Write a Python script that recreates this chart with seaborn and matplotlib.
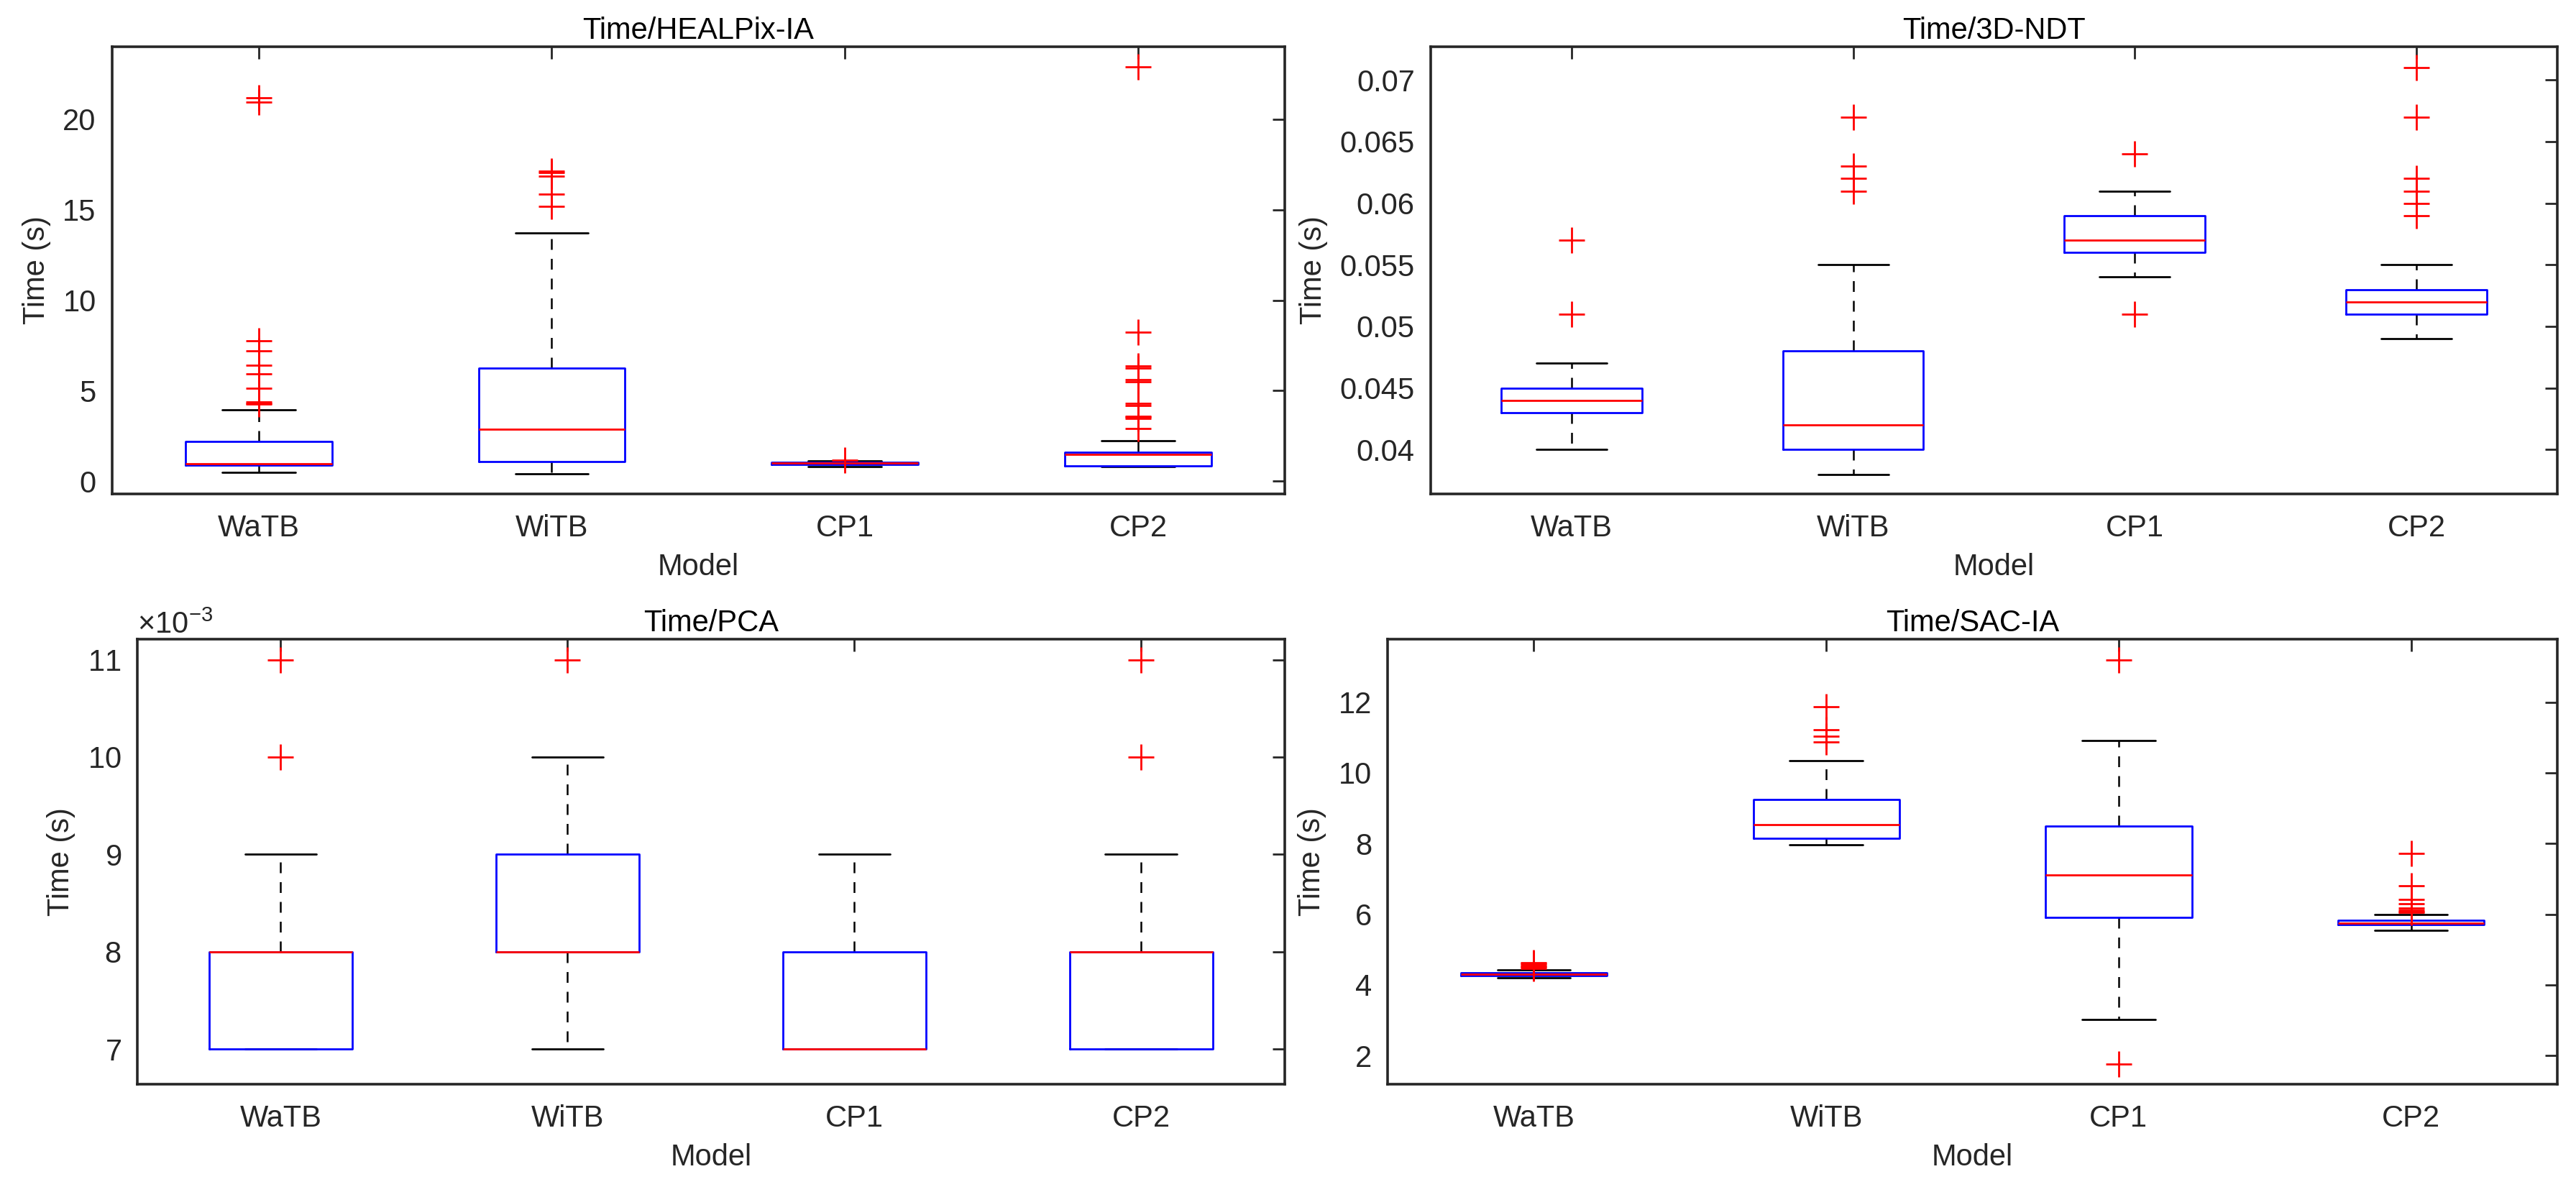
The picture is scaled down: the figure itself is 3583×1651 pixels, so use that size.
import numpy as np
import pandas as pd
import seaborn as sns
import matplotlib
matplotlib.use("Agg")
import matplotlib.pyplot as plt
from matplotlib.ticker import MultipleLocator, FuncFormatter, ScalarFormatter

# ==============================================================
# DATA (box statistics)
# ==============================================================
MODELS = ["WaTB", "WiTB", "CP1", "CP2"]

# Time/HEALPix-IA
healpix_q1 = [0.90, 1.10, 0.93, 0.85]
healpix_med = [0.97, 2.87, 1.00, 1.50]
healpix_q3 = [2.20, 6.23, 1.05, 1.59]
healpix_lo = [0.50, 0.40, 0.82, 0.80]
healpix_hi = [3.93, 13.73, 1.12, 2.22]
healpix_out = [
    [4.25, 4.30, 4.40, 5.15, 5.94, 6.40, 7.20, 7.77, 20.95, 21.20],
    [15.20, 15.85, 16.85, 17.05, 17.15],
    [1.18],
    [2.90, 3.45, 3.55, 3.60, 4.20, 4.30, 5.50, 5.60, 6.25, 6.35, 8.25, 22.90],
]

# Time/3D-NDT
ndt_q1 = [0.043, 0.040, 0.056, 0.051]
ndt_med = [0.044, 0.042, 0.057, 0.052]
ndt_q3 = [0.045, 0.048, 0.059, 0.053]
ndt_lo = [0.040, 0.038, 0.054, 0.049]
ndt_hi = [0.047, 0.055, 0.061, 0.055]
ndt_out = [
    [0.051, 0.057],
    [0.061, 0.062, 0.063, 0.067],
    [0.051, 0.064],
    [0.059, 0.060, 0.061, 0.062, 0.067, 0.071],
]

# Time/PCA
pca_q1 = [0.007, 0.008, 0.007, 0.007]
pca_med = [0.008, 0.008, 0.007, 0.008]
pca_q3 = [0.008, 0.009, 0.008, 0.008]
pca_lo = [0.007, 0.007, 0.007, 0.007]
pca_hi = [0.009, 0.010, 0.009, 0.009]
pca_out = [
    [0.010, 0.011],
    [0.011],
    [],
    [0.010, 0.011],
]

# Time/SAC-IA
sac_q1 = [4.27, 8.15, 5.90, 5.70]
sac_med = [4.30, 8.54, 7.11, 5.74]
sac_q3 = [4.34, 9.25, 8.50, 5.82]
sac_lo = [4.20, 7.97, 3.03, 5.54]
sac_hi = [4.42, 10.35, 10.92, 6.00]
sac_out = [
    [4.47, 4.50, 4.53, 4.57, 4.60, 4.63],
    [10.88, 11.04, 11.21, 11.87],
    [1.75, 13.20],
    [6.05, 6.08, 6.12, 6.18, 6.30, 6.42, 6.80, 7.72],
]


def make_stats(q1, med, q3, lo, hi, out):
    df = pd.DataFrame({"label": MODELS, "q1": q1, "med": med, "q3": q3,
                       "whislo": lo, "whishi": hi})
    stats = []
    for i, row in df.iterrows():
        d = row.to_dict()
        d["fliers"] = np.array(out[i])
        stats.append(d)
    return stats


# ==============================================================
# STYLE
# ==============================================================
sns.set_theme(style="white")
plt.rcParams["font.family"] = ["Liberation Sans", "DejaVu Sans"]
plt.rcParams["mathtext.fontset"] = "custom"
plt.rcParams["mathtext.rm"] = "Liberation Sans"
FS = 15
INK = "#262626"

fig = plt.figure(figsize=(3583 / 200, 1651 / 200), dpi=200)
fig.patch.set_facecolor("white")

rects = [
    [0.0435, 0.5839, 0.4552, 0.3767],
    [0.5554, 0.5839, 0.4373, 0.3767],
    [0.0533, 0.0866, 0.4454, 0.3749],
    [0.5387, 0.0866, 0.4540, 0.3749],
]
panels = [
    ("Time/HEALPix-IA", make_stats(healpix_q1, healpix_med, healpix_q3, healpix_lo, healpix_hi, healpix_out), (-0.7, 24.0)),
    ("Time/3D-NDT", make_stats(ndt_q1, ndt_med, ndt_q3, ndt_lo, ndt_hi, ndt_out), (0.0364, 0.0727)),
    ("Time/PCA", make_stats(pca_q1, pca_med, pca_q3, pca_lo, pca_hi, pca_out), (0.00664, 0.01121)),
    ("Time/SAC-IA", make_stats(sac_q1, sac_med, sac_q3, sac_lo, sac_hi, sac_out), (1.19, 13.78)),
]

for k, (title, stats, ylim) in enumerate(panels):
    ax = fig.add_axes(rects[k])
    ax.bxp(stats, positions=[1, 2, 3, 4], widths=0.5, capwidths=0.25,
           boxprops=dict(color="#0000FF", linewidth=1.0, zorder=3),
           medianprops=dict(color="#FF0000", linewidth=1.0, zorder=4),
           whiskerprops=dict(color="black", linewidth=0.9, linestyle=(0, (6, 5)), zorder=2),
           capprops=dict(color="black", linewidth=1.0, zorder=2),
           flierprops=dict(marker="+", markeredgecolor="#FF0000", markersize=13,
                           markeredgewidth=1.0, linestyle="none", zorder=5))
    ax.set_xlim(0.5, 4.5)
    ax.set_ylim(*ylim)
    ax.set_xticks([1, 2, 3, 4])
    ax.set_xticklabels(MODELS)
    ax.set_title(title, fontsize=FS, color="black", pad=4)
    ax.set_xlabel("Model", fontsize=FS, color=INK, labelpad=5)
    ax.set_ylabel("Time (s)", fontsize=FS, color=INK, labelpad=6)
    ax.tick_params(axis="both", which="both", direction="in", length=6, width=1.0,
                   color=INK, labelcolor=INK, labelsize=FS, top=True, right=True)
    ax.tick_params(axis="x", pad=10)
    ax.tick_params(axis="y", pad=8)
    for sp in ax.spines.values():
        sp.set_visible(True)
        sp.set_color(INK)
        sp.set_linewidth(1.3)
    ax.grid(False)

    if k == 0:
        ax.yaxis.set_major_locator(MultipleLocator(5))
    elif k == 1:
        ax.yaxis.set_major_locator(MultipleLocator(0.005))
        ax.yaxis.set_major_formatter(FuncFormatter(lambda v, p: f"{v:g}"))
    elif k == 2:
        ax.yaxis.set_major_locator(MultipleLocator(0.001))
        fmt = ScalarFormatter(useMathText=True)
        fmt.set_scientific(True)
        fmt.set_powerlimits((-3, -3))
        ax.yaxis.set_major_formatter(fmt)
        ax.yaxis.get_offset_text().set_fontsize(FS)
        ax.yaxis.get_offset_text().set_color(INK)
    else:
        ax.yaxis.set_major_locator(MultipleLocator(2))

fig.savefig("out.png", dpi=200, facecolor="white")
